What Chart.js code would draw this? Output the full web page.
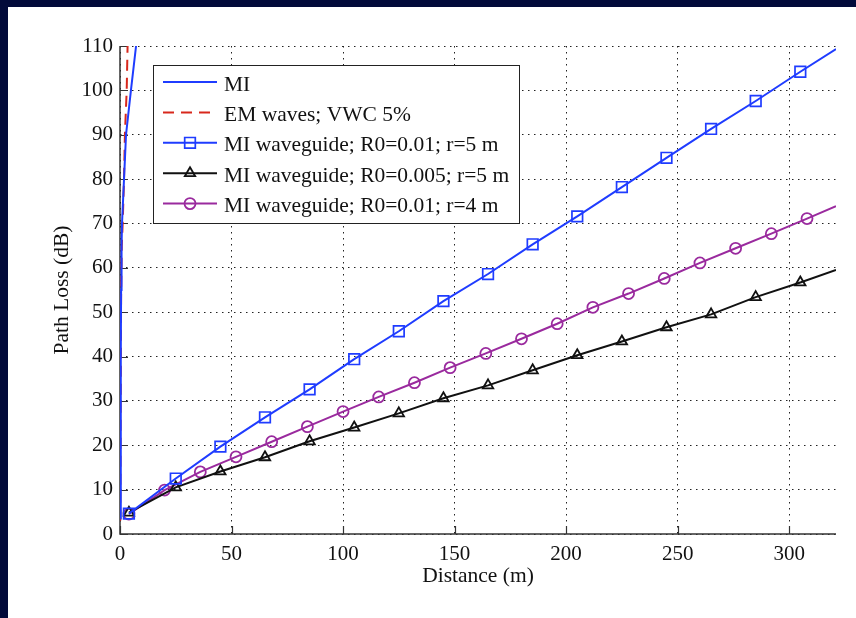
<!DOCTYPE html>
<html>
<head>
<meta charset="utf-8">
<script src="https://cdn.jsdelivr.net/npm/chart.js@4.4.1/dist/chart.umd.min.js"></script>
<style>
  html, body { margin: 0; padding: 0; background: #020a3a; }
  body { width: 856px; height: 618px; overflow: hidden; position: relative; }
  #wrap { position: absolute; left: 8px; top: 7px; width: 848px; height: 611px; background: #fff; }
</style>
</head>
<body>
<div id="wrap"><canvas id="chart" width="848" height="611"></canvas></div>
<script>
// values (distance in m, path loss in dB)
const miDist = [0.2, 0.3, 0.4, 0.5, 0.7, 0.9, 1.8, 2.7, 4.9, 7.2];
const miLoss = [3.5, 20, 40, 55, 65, 70, 80, 90, 100, 110];

const emDist = [0.1, 0.3, 0.5, 0.8, 1.2, 1.8, 2.2, 3.0, 3.4];
const emLoss = [3, 30, 55, 65, 70, 80, 90, 100, 110];

const sqDist = [4, 25, 45, 65, 85, 105, 125, 145, 165, 185, 205, 225, 245, 265, 285, 305, 321];
const sqLoss = [4.6, 12.5, 19.7, 26.3, 32.6, 39.4, 45.7, 52.5, 58.6, 65.3, 71.6, 78.2, 84.8, 91.3, 97.6, 104.2, 109.3];

const triDist = [4, 25, 45, 65, 85, 105, 125, 145, 165, 185, 205, 225, 245, 265, 285, 305, 321];
const triLoss = [4.8, 10.5, 14.1, 17.3, 20.9, 24.0, 27.2, 30.6, 33.5, 36.9, 40.3, 43.4, 46.6, 49.5, 53.4, 56.7, 59.5];

const cirDist = [4, 20, 36, 52, 68, 84, 100, 116, 132, 148, 164, 180, 196, 212, 228, 244, 260, 276, 292, 308, 321];
const cirLoss = [4.5, 9.9, 14.0, 17.4, 20.8, 24.2, 27.6, 30.9, 34.1, 37.5, 40.7, 44.0, 47.4, 51.1, 54.2, 57.6, 61.1, 64.4, 67.7, 71.1, 73.9];

const seriesLabels = [
    "MI",
    "EM waves; VWC 5%",
    "MI waveguide; R0=0.01; r=5 m",
    "MI waveguide; R0=0.005; r=5 m",
    "MI waveguide; R0=0.01; r=4 m"
];

const yTicks = [0, 10, 20, 30, 40, 50, 60, 70, 80, 90, 100, 110];
const xTicks = [0, 50, 100, 150, 200, 250, 300];

const FONT = '"Liberation Serif", "Times New Roman", serif';

function toPoints(xs, ys) {
    return xs.map((x, i) => ({ x: x, y: ys[i] }));
}

// last point of a marker series is only the line end, no marker there
function markerRadius(r) {
    return (ctx) => ctx.dataIndex === ctx.dataset.data.length - 1 ? 0 : r;
}

// solid axis lines + MATLAB style ticks pointing into the plot
const axisLines = {
    id: "axisLines",
    beforeDatasetsDraw(chart) {
        const ctx = chart.ctx;
        const xs = chart.scales.x;
        const ys = chart.scales.y;
        const area = chart.chartArea;
        ctx.save();
        ctx.strokeStyle = "#333";
        ctx.lineWidth = 1.5;
        ctx.beginPath();
        ctx.moveTo(area.left, area.top);
        ctx.lineTo(area.left, area.bottom);
        ctx.lineTo(area.right, area.bottom);
        ctx.stroke();

        ctx.lineWidth = 1.2;
        ctx.beginPath();
        xs.ticks.forEach((t) => {
            const px = Math.round(xs.getPixelForValue(t.value)) + 0.5;
            ctx.moveTo(px, area.bottom);
            ctx.lineTo(px, area.bottom - 8);
        });
        ys.ticks.forEach((t) => {
            const py = Math.round(ys.getPixelForValue(t.value)) + 0.5;
            ctx.moveTo(area.left, py);
            ctx.lineTo(area.left + 8, py);
        });
        ctx.stroke();
        ctx.restore();
    }
};

// boxed legend inside the axes, upper left
const legendBox = {
    id: "legendBox",
    afterDraw(chart) {
        const ctx = chart.ctx;
        const left = 145, top = 58, w = 366, h = 158;
        ctx.save();
        ctx.fillStyle = "#fff";
        ctx.fillRect(left, top, w, h);
        ctx.strokeStyle = "#222";
        ctx.lineWidth = 1;
        ctx.strokeRect(left + 0.5, top + 0.5, w, h);

        ctx.font = "21.5px " + FONT;
        ctx.textBaseline = "middle";
        chart.data.datasets.forEach((ds, i) => {
            const y = top + 17 + i * 30.4;
            ctx.strokeStyle = ds.borderColor;
            ctx.lineWidth = ds.borderWidth;
            ctx.setLineDash(ds.borderDash || []);
            ctx.beginPath();
            ctx.moveTo(155, y);
            ctx.lineTo(209, y);
            ctx.stroke();
            ctx.setLineDash([]);
            if (ds.pointStyle) {
                ctx.fillStyle = "rgba(0,0,0,0)";
                ctx.lineWidth = ds.pointBorderWidth;
                Chart.helpers.drawPoint(ctx, {
                    pointStyle: ds.pointStyle,
                    radius: ds.legendRadius,
                    borderWidth: ds.pointBorderWidth,
                    rotation: 0
                }, 182, y);
            }
            ctx.fillStyle = "#111";
            ctx.fillText(ds.label, 216, y + 3);
        });
        ctx.restore();
    }
};

document.addEventListener("DOMContentLoaded", () => {
    const ctx = document.getElementById("chart").getContext("2d");

    new Chart(ctx, {
        type: "line",
        data: {
            datasets: [
                {
                    label: seriesLabels[0],
                    data: toPoints(miDist, miLoss),
                    borderColor: "#1f3cff",
                    borderWidth: 2,
                    pointRadius: 0
                },
                {
                    label: seriesLabels[1],
                    data: toPoints(emDist, emLoss),
                    borderColor: "#d8281c",
                    borderWidth: 2,
                    borderDash: [11, 7],
                    pointRadius: 0
                },
                {
                    label: seriesLabels[2],
                    data: toPoints(sqDist, sqLoss),
                    borderColor: "#1f3cff",
                    borderWidth: 2,
                    pointStyle: "rect",
                    pointRadius: markerRadius(7.5),
                    legendRadius: 7.5,
                    pointBorderWidth: 1.7,
                    pointBackgroundColor: "rgba(0,0,0,0)",
                    pointBorderColor: "#1f3cff"
                },
                {
                    label: seriesLabels[3],
                    data: toPoints(triDist, triLoss),
                    borderColor: "#111",
                    borderWidth: 2,
                    pointStyle: "triangle",
                    pointRadius: markerRadius(6),
                    legendRadius: 6,
                    pointBorderWidth: 1.8,
                    pointBackgroundColor: "rgba(0,0,0,0)",
                    pointBorderColor: "#111"
                },
                {
                    label: seriesLabels[4],
                    data: toPoints(cirDist, cirLoss),
                    borderColor: "#9a2a9e",
                    borderWidth: 2,
                    pointStyle: "circle",
                    pointRadius: markerRadius(5.5),
                    legendRadius: 5.5,
                    pointBorderWidth: 1.8,
                    pointBackgroundColor: "rgba(0,0,0,0)",
                    pointBorderColor: "#9a2a9e"
                }
            ]
        },
        options: {
            responsive: false,
            animation: false,
            layout: {
                padding: { left: 0, top: 39, right: 20, bottom: 0 }
            },
            plugins: {
                legend: { display: false },
                tooltip: { enabled: false }
            },
            scales: {
                x: {
                    type: "linear",
                    min: 0,
                    max: 321,
                    afterBuildTicks: (scale) => {
                        scale.ticks = xTicks.map((v) => ({ value: v }));
                    },
                    afterFit: (scale) => { scale.height = 84; },
                    border: { display: false, dash: [1.5, 4.5] },
                    grid: {
                        color: "#222",
                        lineWidth: 1,
                        drawTicks: false
                    },
                    ticks: {
                        padding: 8,
                        color: "#111",
                        maxRotation: 0,
                        font: { family: FONT, size: 21 }
                    },
                    title: {
                        display: true,
                        text: "Distance (m)",
                        color: "#111",
                        font: { family: FONT, size: 21.5 },
                        padding: { top: 0, bottom: 29 }
                    }
                },
                y: {
                    type: "linear",
                    min: 0,
                    max: 110,
                    afterBuildTicks: (scale) => {
                        scale.ticks = yTicks.map((v) => ({ value: v }));
                    },
                    afterFit: (scale) => { scale.width = 112; },
                    border: { display: false, dash: [1.5, 4.5] },
                    grid: {
                        color: "#222",
                        lineWidth: 1,
                        drawTicks: false
                    },
                    ticks: {
                        padding: 7,
                        color: "#111",
                        font: { family: FONT, size: 21 }
                    },
                    title: {
                        display: true,
                        text: "Path Loss (dB)",
                        color: "#111",
                        font: { family: FONT, size: 21.5 },
                        padding: { top: 41, bottom: 0 }
                    }
                }
            }
        },
        plugins: [axisLines, legendBox]
    });
});
</script>
</body>
</html>
